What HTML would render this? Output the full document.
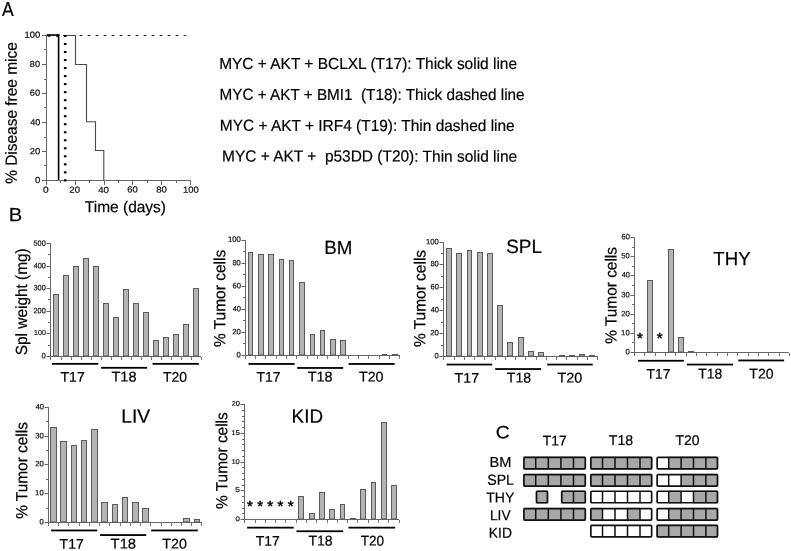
<!DOCTYPE html>
<html><head><meta charset="utf-8"><title>MYC/AKT tumor figure</title>
<style>
html,body{margin:0;padding:0;background:#fff;}
svg{display:block;filter:grayscale(1);}
text{font-family:"Liberation Sans", Arial, Helvetica, sans-serif;fill:#000;stroke:#000;stroke-width:0.2px;}
text.st{stroke-width:0.5px;}
text.tk{fill:#111;stroke:#111;stroke-width:0.2px;}
</style>
</head><body>
<svg width="791" height="551" viewBox="0 0 791 551">
<rect width="791" height="551" fill="#fff"/>
<g id="panelA">
<text x="1.92" y="15.57" font-size="19.30" textLength="11.70" lengthAdjust="spacingAndGlyphs" transform="translate(1.92 15.57) skewY(0.03) translate(-1.92 -15.57)">A</text>
<text x="219.13" y="68.92" font-size="16.01" textLength="297.93" lengthAdjust="spacingAndGlyphs" transform="translate(219.13 68.92) skewY(0.03) translate(-219.13 -68.92)">MYC + AKT + BCLXL (T17): Thick solid line</text>
<text x="219.56" y="99.87" font-size="16.01" textLength="305.04" lengthAdjust="spacingAndGlyphs" transform="translate(219.56 99.87) skewY(0.03) translate(-219.56 -99.87)">MYC + AKT + BMI1&#160; (T18): Thick dashed line</text>
<text x="219.79" y="130.86" font-size="16.01" textLength="294.93" lengthAdjust="spacingAndGlyphs" transform="translate(219.79 130.86) skewY(0.03) translate(-219.79 -130.86)">MYC + AKT + IRF4 (T19): Thin dashed line</text>
<text x="222.06" y="161.54" font-size="16.01" textLength="295.09" lengthAdjust="spacingAndGlyphs" transform="translate(222.06 161.54) skewY(0.03) translate(-222.06 -161.54)">MYC + AKT +&#160; p53DD (T20): Thin solid line</text>
<text x="84.84" y="212.18" font-size="15.88" textLength="81.18" lengthAdjust="spacingAndGlyphs" transform="translate(84.84 212.18) skewY(0.03) translate(-84.84 -212.18)">Time (days)</text>
<text x="16.66" y="183.83" font-size="16.15" textLength="141.62" lengthAdjust="spacingAndGlyphs" transform="rotate(-90 16.66 183.83) translate(16.66 183.83) skewY(0.03) translate(-16.66 -183.83)">% Disease free mice</text>
<rect x="46.00" y="35.00" width="1.00" height="150.00" fill="#666"/>
<rect x="46.00" y="180.00" width="145.00" height="1.00" fill="#666"/>
<rect x="42.00" y="180.00" width="4.00" height="1.00" fill="#666"/>
<text class="tk" x="34.94" y="183.14" font-size="8.90" textLength="5.32" lengthAdjust="spacingAndGlyphs" transform="translate(34.94 183.14) skewY(0.03) translate(-34.94 -183.14)">0</text>
<rect x="44.00" y="165.00" width="2.00" height="1.00" fill="#666"/>
<rect x="42.00" y="151.00" width="4.00" height="1.00" fill="#666"/>
<text class="tk" x="29.83" y="154.18" font-size="8.90" textLength="10.52" lengthAdjust="spacingAndGlyphs" transform="translate(29.83 154.18) skewY(0.03) translate(-29.83 -154.18)">20</text>
<rect x="44.00" y="137.00" width="2.00" height="1.00" fill="#666"/>
<rect x="42.00" y="122.00" width="4.00" height="1.00" fill="#666"/>
<text class="tk" x="30.15" y="125.15" font-size="8.90" textLength="10.15" lengthAdjust="spacingAndGlyphs" transform="translate(30.15 125.15) skewY(0.03) translate(-30.15 -125.15)">40</text>
<rect x="44.00" y="107.00" width="2.00" height="1.00" fill="#666"/>
<rect x="42.00" y="93.00" width="4.00" height="1.00" fill="#666"/>
<text class="tk" x="29.77" y="95.78" font-size="8.90" textLength="10.30" lengthAdjust="spacingAndGlyphs" transform="translate(29.77 95.78) skewY(0.03) translate(-29.77 -95.78)">60</text>
<rect x="44.00" y="79.00" width="2.00" height="1.00" fill="#666"/>
<rect x="42.00" y="64.00" width="4.00" height="1.00" fill="#666"/>
<text class="tk" x="29.87" y="66.94" font-size="8.90" textLength="10.14" lengthAdjust="spacingAndGlyphs" transform="translate(29.87 66.94) skewY(0.03) translate(-29.87 -66.94)">80</text>
<rect x="44.00" y="49.00" width="2.00" height="1.00" fill="#666"/>
<rect x="42.00" y="35.00" width="4.00" height="1.00" fill="#666"/>
<text class="tk" x="24.44" y="37.66" font-size="8.90" textLength="15.73" lengthAdjust="spacingAndGlyphs" transform="translate(24.44 37.66) skewY(0.03) translate(-24.44 -37.66)">100</text>
<rect x="46.00" y="181.00" width="1.00" height="4.00" fill="#666"/>
<text class="tk" x="43.09" y="192.83" font-size="8.90" textLength="5.69" lengthAdjust="spacingAndGlyphs" transform="translate(43.09 192.83) skewY(0.03) translate(-43.09 -192.83)">0</text>
<rect x="60.00" y="181.00" width="1.00" height="2.00" fill="#666"/>
<rect x="75.00" y="181.00" width="1.00" height="4.00" fill="#666"/>
<text class="tk" x="69.39" y="192.78" font-size="8.90" textLength="10.67" lengthAdjust="spacingAndGlyphs" transform="translate(69.39 192.78) skewY(0.03) translate(-69.39 -192.78)">20</text>
<rect x="89.00" y="181.00" width="1.00" height="2.00" fill="#666"/>
<rect x="104.00" y="181.00" width="1.00" height="4.00" fill="#666"/>
<text class="tk" x="98.22" y="193.04" font-size="8.90" textLength="10.70" lengthAdjust="spacingAndGlyphs" transform="translate(98.22 193.04) skewY(0.03) translate(-98.22 -193.04)">40</text>
<rect x="118.00" y="181.00" width="1.00" height="2.00" fill="#666"/>
<rect x="132.00" y="181.00" width="1.00" height="4.00" fill="#666"/>
<text class="tk" x="127.19" y="192.59" font-size="8.90" textLength="10.48" lengthAdjust="spacingAndGlyphs" transform="translate(127.19 192.59) skewY(0.03) translate(-127.19 -192.59)">60</text>
<rect x="147.00" y="181.00" width="1.00" height="2.00" fill="#666"/>
<rect x="161.00" y="181.00" width="1.00" height="4.00" fill="#666"/>
<text class="tk" x="156.28" y="192.56" font-size="8.90" textLength="10.65" lengthAdjust="spacingAndGlyphs" transform="translate(156.28 192.56) skewY(0.03) translate(-156.28 -192.56)">80</text>
<rect x="176.00" y="181.00" width="1.00" height="2.00" fill="#666"/>
<rect x="190.00" y="181.00" width="1.00" height="4.00" fill="#666"/>
<text class="tk" x="183.08" y="192.65" font-size="8.90" textLength="15.75" lengthAdjust="spacingAndGlyphs" transform="translate(183.08 192.65) skewY(0.03) translate(-183.08 -192.65)">100</text>
<rect x="79.50" y="35.00" width="3.00" height="1.00" fill="#333"/>
<rect x="87.50" y="35.00" width="3.00" height="1.00" fill="#333"/>
<rect x="95.50" y="35.00" width="3.00" height="1.00" fill="#333"/>
<rect x="103.50" y="35.00" width="3.00" height="1.00" fill="#333"/>
<rect x="111.50" y="35.00" width="3.00" height="1.00" fill="#333"/>
<rect x="119.50" y="35.00" width="3.00" height="1.00" fill="#333"/>
<rect x="127.50" y="35.00" width="3.00" height="1.00" fill="#333"/>
<rect x="135.50" y="35.00" width="3.00" height="1.00" fill="#333"/>
<rect x="143.50" y="35.00" width="3.00" height="1.00" fill="#333"/>
<rect x="151.50" y="35.00" width="3.00" height="1.00" fill="#333"/>
<rect x="159.50" y="35.00" width="3.00" height="1.00" fill="#333"/>
<rect x="167.50" y="35.00" width="3.00" height="1.00" fill="#333"/>
<rect x="175.50" y="35.00" width="3.00" height="1.00" fill="#333"/>
<rect x="183.50" y="35.00" width="3.00" height="1.00" fill="#333"/>
<polyline fill="none" stroke="#4a4a4a" stroke-width="1.1" points="63.00,35.50 75.50,35.50 75.50,64.50 86.50,64.50 86.50,121.80 95.50,121.80 95.50,150.50 103.80,150.50 103.80,180.00"/>
<rect x="46.60" y="34.20" width="12.80" height="1.60" fill="#000"/>
<rect x="47.50" y="35.20" width="3.00" height="1.50" fill="#000"/>
<rect x="56.00" y="35.20" width="2.60" height="1.50" fill="#000"/>
<rect x="57.80" y="34.20" width="1.60" height="145.80" fill="#000"/>
<rect x="63.90" y="34.95" width="2.60" height="2.10" fill="#000"/>
<rect x="63.90" y="42.97" width="2.60" height="2.10" fill="#000"/>
<rect x="63.90" y="50.99" width="2.60" height="2.10" fill="#000"/>
<rect x="63.90" y="59.01" width="2.60" height="2.10" fill="#000"/>
<rect x="63.90" y="67.03" width="2.60" height="2.10" fill="#000"/>
<rect x="63.90" y="75.05" width="2.60" height="2.10" fill="#000"/>
<rect x="63.90" y="83.07" width="2.60" height="2.10" fill="#000"/>
<rect x="63.90" y="91.09" width="2.60" height="2.10" fill="#000"/>
<rect x="63.90" y="99.11" width="2.60" height="2.10" fill="#000"/>
<rect x="63.90" y="107.13" width="2.60" height="2.10" fill="#000"/>
<rect x="63.90" y="115.15" width="2.60" height="2.10" fill="#000"/>
<rect x="63.90" y="123.17" width="2.60" height="2.10" fill="#000"/>
<rect x="63.90" y="131.19" width="2.60" height="2.10" fill="#000"/>
<rect x="63.90" y="139.21" width="2.60" height="2.10" fill="#000"/>
<rect x="63.90" y="147.23" width="2.60" height="2.10" fill="#000"/>
<rect x="63.90" y="155.25" width="2.60" height="2.10" fill="#000"/>
<rect x="63.90" y="163.27" width="2.60" height="2.10" fill="#000"/>
<rect x="63.90" y="171.29" width="2.60" height="2.10" fill="#000"/>
<rect x="63.90" y="179.31" width="2.60" height="2.10" fill="#000"/>
</g>
<text x="8.71" y="221.25" font-size="19.30" textLength="13.43" lengthAdjust="spacingAndGlyphs" transform="translate(8.71 221.25) skewY(0.03) translate(-8.71 -221.25)">B</text>
<g id="chart-c1">
<rect x="50.00" y="243.00" width="1.00" height="117.00" fill="#666"/>
<rect x="50.00" y="356.00" width="151.00" height="1.00" fill="#666"/>
<rect x="46.50" y="356.00" width="3.50" height="1.00" fill="#666"/>
<text class="tk" x="41.40" y="358.15" font-size="7.65" transform="translate(41.40 358.15) skewY(0.03) translate(-41.40 -358.15)">0</text>
<rect x="48.00" y="345.00" width="2.00" height="1.00" fill="#666"/>
<rect x="46.50" y="333.00" width="3.50" height="1.00" fill="#666"/>
<text class="tk" x="34.03" y="334.61" font-size="7.65" textLength="11.81" lengthAdjust="spacingAndGlyphs" transform="translate(34.03 334.61) skewY(0.03) translate(-34.03 -334.61)">100</text>
<rect x="48.00" y="322.00" width="2.00" height="1.00" fill="#666"/>
<rect x="46.50" y="311.00" width="3.50" height="1.00" fill="#666"/>
<text class="tk" x="33.47" y="313.30" font-size="7.65" textLength="12.27" lengthAdjust="spacingAndGlyphs" transform="translate(33.47 313.30) skewY(0.03) translate(-33.47 -313.30)">200</text>
<rect x="48.00" y="299.00" width="2.00" height="1.00" fill="#666"/>
<rect x="46.50" y="288.00" width="3.50" height="1.00" fill="#666"/>
<text class="tk" x="33.49" y="290.29" font-size="7.65" textLength="12.25" lengthAdjust="spacingAndGlyphs" transform="translate(33.49 290.29) skewY(0.03) translate(-33.49 -290.29)">300</text>
<rect x="48.00" y="277.00" width="2.00" height="1.00" fill="#666"/>
<rect x="46.50" y="266.00" width="3.50" height="1.00" fill="#666"/>
<text class="tk" x="33.72" y="268.34" font-size="7.65" textLength="12.04" lengthAdjust="spacingAndGlyphs" transform="translate(33.72 268.34) skewY(0.03) translate(-33.72 -268.34)">400</text>
<rect x="48.00" y="254.00" width="2.00" height="1.00" fill="#666"/>
<rect x="46.50" y="243.00" width="3.50" height="1.00" fill="#666"/>
<text class="tk" x="33.56" y="245.85" font-size="7.65" textLength="12.17" lengthAdjust="spacingAndGlyphs" transform="translate(33.56 245.85) skewY(0.03) translate(-33.56 -245.85)">500</text>
<rect x="61.00" y="357.00" width="1.00" height="3.00" fill="#777"/>
<rect x="71.00" y="357.00" width="1.00" height="3.00" fill="#777"/>
<rect x="81.00" y="357.00" width="1.00" height="3.00" fill="#777"/>
<rect x="91.00" y="357.00" width="1.00" height="3.00" fill="#777"/>
<rect x="101.00" y="357.00" width="1.00" height="3.00" fill="#777"/>
<rect x="111.00" y="357.00" width="1.00" height="3.00" fill="#777"/>
<rect x="121.00" y="357.00" width="1.00" height="3.00" fill="#777"/>
<rect x="131.00" y="357.00" width="1.00" height="3.00" fill="#777"/>
<rect x="141.00" y="357.00" width="1.00" height="3.00" fill="#777"/>
<rect x="151.00" y="357.00" width="1.00" height="3.00" fill="#777"/>
<rect x="161.00" y="357.00" width="1.00" height="3.00" fill="#777"/>
<rect x="171.00" y="357.00" width="1.00" height="3.00" fill="#777"/>
<rect x="181.00" y="357.00" width="1.00" height="3.00" fill="#777"/>
<rect x="191.00" y="357.00" width="1.00" height="3.00" fill="#777"/>
<rect x="201.00" y="357.00" width="1.00" height="3.00" fill="#777"/>
<rect x="53.5" y="294.5" width="5" height="61.5" fill="#b4b4b4" stroke="#5a5a5a" stroke-width="1"/>
<rect x="63.5" y="275.5" width="5" height="80.5" fill="#b4b4b4" stroke="#5a5a5a" stroke-width="1"/>
<rect x="73.5" y="266.5" width="5" height="89.5" fill="#b4b4b4" stroke="#5a5a5a" stroke-width="1"/>
<rect x="83.5" y="258.5" width="5" height="97.5" fill="#b4b4b4" stroke="#5a5a5a" stroke-width="1"/>
<rect x="93.5" y="266.5" width="5" height="89.5" fill="#b4b4b4" stroke="#5a5a5a" stroke-width="1"/>
<rect x="103.5" y="303.5" width="5" height="52.5" fill="#b4b4b4" stroke="#5a5a5a" stroke-width="1"/>
<rect x="113.5" y="317.5" width="5" height="38.5" fill="#b4b4b4" stroke="#5a5a5a" stroke-width="1"/>
<rect x="123.5" y="289.5" width="5" height="66.5" fill="#b4b4b4" stroke="#5a5a5a" stroke-width="1"/>
<rect x="133.5" y="303.5" width="5" height="52.5" fill="#b4b4b4" stroke="#5a5a5a" stroke-width="1"/>
<rect x="143.5" y="312.5" width="5" height="43.5" fill="#b4b4b4" stroke="#5a5a5a" stroke-width="1"/>
<rect x="153.5" y="340.5" width="5" height="15.5" fill="#b4b4b4" stroke="#5a5a5a" stroke-width="1"/>
<rect x="163.5" y="337.5" width="5" height="18.5" fill="#b4b4b4" stroke="#5a5a5a" stroke-width="1"/>
<rect x="173.5" y="334.5" width="5" height="21.5" fill="#b4b4b4" stroke="#5a5a5a" stroke-width="1"/>
<rect x="183.5" y="324.5" width="5" height="31.5" fill="#b4b4b4" stroke="#5a5a5a" stroke-width="1"/>
<rect x="193.5" y="288.5" width="5" height="67.5" fill="#b4b4b4" stroke="#5a5a5a" stroke-width="1"/>
<rect x="51.90" y="362.95" width="46.40" height="1.80" fill="#000"/>
<rect x="101.10" y="366.90" width="46.00" height="1.80" fill="#000"/>
<rect x="152.50" y="362.95" width="46.30" height="1.80" fill="#000"/>
<text x="26.98" y="355.27" font-size="16.15" textLength="107.03" lengthAdjust="spacingAndGlyphs" transform="rotate(-90 26.98 355.27) translate(26.98 355.27) skewY(0.03) translate(-26.98 -355.27)">Spl weight (mg)</text>
<text x="60.55" y="381.87" font-size="14.05" textLength="24.20" lengthAdjust="spacingAndGlyphs" transform="translate(60.55 381.87) skewY(0.03) translate(-60.55 -381.87)">T17</text>
<text x="111.41" y="381.58" font-size="14.05" textLength="25.14" lengthAdjust="spacingAndGlyphs" transform="translate(111.41 381.58) skewY(0.03) translate(-111.41 -381.58)">T18</text>
<text x="163.01" y="381.68" font-size="14.05" textLength="24.06" lengthAdjust="spacingAndGlyphs" transform="translate(163.01 381.68) skewY(0.03) translate(-163.01 -381.68)">T20</text>
</g>
<g id="chart-bm">
<rect x="245.00" y="240.00" width="1.00" height="119.00" fill="#666"/>
<rect x="245.00" y="355.00" width="155.00" height="1.00" fill="#666"/>
<rect x="241.50" y="355.00" width="3.50" height="1.00" fill="#666"/>
<text class="tk" x="236.40" y="357.15" font-size="7.65" transform="translate(236.40 357.15) skewY(0.03) translate(-236.40 -357.15)">0</text>
<rect x="243.00" y="343.00" width="2.00" height="1.00" fill="#666"/>
<rect x="241.50" y="332.00" width="3.50" height="1.00" fill="#666"/>
<text class="tk" x="232.32" y="334.31" font-size="7.65" textLength="8.62" lengthAdjust="spacingAndGlyphs" transform="translate(232.32 334.31) skewY(0.03) translate(-232.32 -334.31)">20</text>
<rect x="243.00" y="320.00" width="2.00" height="1.00" fill="#666"/>
<rect x="241.50" y="309.00" width="3.50" height="1.00" fill="#666"/>
<text class="tk" x="232.66" y="311.28" font-size="7.65" textLength="8.29" lengthAdjust="spacingAndGlyphs" transform="translate(232.66 311.28) skewY(0.03) translate(-232.66 -311.28)">40</text>
<rect x="243.00" y="297.00" width="2.00" height="1.00" fill="#666"/>
<rect x="241.50" y="286.00" width="3.50" height="1.00" fill="#666"/>
<text class="tk" x="232.57" y="288.30" font-size="7.65" textLength="8.38" lengthAdjust="spacingAndGlyphs" transform="translate(232.57 288.30) skewY(0.03) translate(-232.57 -288.30)">60</text>
<rect x="243.00" y="274.00" width="2.00" height="1.00" fill="#666"/>
<rect x="241.50" y="263.00" width="3.50" height="1.00" fill="#666"/>
<text class="tk" x="232.41" y="265.35" font-size="7.65" textLength="8.30" lengthAdjust="spacingAndGlyphs" transform="translate(232.41 265.35) skewY(0.03) translate(-232.41 -265.35)">80</text>
<rect x="243.00" y="251.00" width="2.00" height="1.00" fill="#666"/>
<rect x="241.50" y="240.00" width="3.50" height="1.00" fill="#666"/>
<text class="tk" x="227.99" y="241.68" font-size="7.65" textLength="12.91" lengthAdjust="spacingAndGlyphs" transform="translate(227.99 241.68) skewY(0.03) translate(-227.99 -241.68)">100</text>
<rect x="255.00" y="356.00" width="1.00" height="3.00" fill="#777"/>
<rect x="265.00" y="356.00" width="1.00" height="3.00" fill="#777"/>
<rect x="276.00" y="356.00" width="1.00" height="3.00" fill="#777"/>
<rect x="286.00" y="356.00" width="1.00" height="3.00" fill="#777"/>
<rect x="296.00" y="356.00" width="1.00" height="3.00" fill="#777"/>
<rect x="307.00" y="356.00" width="1.00" height="3.00" fill="#777"/>
<rect x="317.00" y="356.00" width="1.00" height="3.00" fill="#777"/>
<rect x="327.00" y="356.00" width="1.00" height="3.00" fill="#777"/>
<rect x="338.00" y="356.00" width="1.00" height="3.00" fill="#777"/>
<rect x="348.00" y="356.00" width="1.00" height="3.00" fill="#777"/>
<rect x="358.00" y="356.00" width="1.00" height="3.00" fill="#777"/>
<rect x="368.00" y="356.00" width="1.00" height="3.00" fill="#777"/>
<rect x="379.00" y="356.00" width="1.00" height="3.00" fill="#777"/>
<rect x="389.00" y="356.00" width="1.00" height="3.00" fill="#777"/>
<rect x="399.00" y="356.00" width="1.00" height="3.00" fill="#777"/>
<rect x="248.5" y="252.5" width="4" height="102.5" fill="#b4b4b4" stroke="#5a5a5a" stroke-width="1"/>
<rect x="258.5" y="254.5" width="5" height="100.5" fill="#b4b4b4" stroke="#5a5a5a" stroke-width="1"/>
<rect x="268.5" y="254.5" width="5" height="100.5" fill="#b4b4b4" stroke="#5a5a5a" stroke-width="1"/>
<rect x="279.5" y="259.5" width="4" height="95.5" fill="#b4b4b4" stroke="#5a5a5a" stroke-width="1"/>
<rect x="289.5" y="260.5" width="4" height="94.5" fill="#b4b4b4" stroke="#5a5a5a" stroke-width="1"/>
<rect x="299.5" y="282.5" width="5" height="72.5" fill="#b4b4b4" stroke="#5a5a5a" stroke-width="1"/>
<rect x="310.5" y="334.5" width="4" height="20.5" fill="#b4b4b4" stroke="#5a5a5a" stroke-width="1"/>
<rect x="320.5" y="330.5" width="4" height="24.5" fill="#b4b4b4" stroke="#5a5a5a" stroke-width="1"/>
<rect x="330.5" y="339.5" width="5" height="15.5" fill="#b4b4b4" stroke="#5a5a5a" stroke-width="1"/>
<rect x="340.5" y="340.5" width="5" height="14.5" fill="#b4b4b4" stroke="#5a5a5a" stroke-width="1"/>
<rect x="382.5" y="354.5" width="4" height="0.5" fill="#b4b4b4" stroke="#5a5a5a" stroke-width="1"/>
<rect x="392.5" y="354.5" width="5" height="0.5" fill="#b4b4b4" stroke="#5a5a5a" stroke-width="1"/>
<rect x="248.50" y="363.05" width="46.10" height="1.80" fill="#000"/>
<rect x="297.20" y="367.05" width="46.00" height="1.80" fill="#000"/>
<rect x="348.60" y="363.05" width="46.10" height="1.80" fill="#000"/>
<text x="225.14" y="347.11" font-size="16.15" textLength="97.29" lengthAdjust="spacingAndGlyphs" transform="rotate(-90 225.14 347.11) translate(225.14 347.11) skewY(0.03) translate(-225.14 -347.11)">% Tumor cells</text>
<text x="324.20" y="254.13" font-size="19.21" textLength="28.09" lengthAdjust="spacingAndGlyphs" transform="translate(324.20 254.13) skewY(0.03) translate(-324.20 -254.13)">BM</text>
<text x="256.56" y="381.78" font-size="14.05" textLength="24.10" lengthAdjust="spacingAndGlyphs" transform="translate(256.56 381.78) skewY(0.03) translate(-256.56 -381.78)">T17</text>
<text x="307.74" y="381.47" font-size="14.05" textLength="24.84" lengthAdjust="spacingAndGlyphs" transform="translate(307.74 381.47) skewY(0.03) translate(-307.74 -381.47)">T18</text>
<text x="358.94" y="381.48" font-size="14.05" textLength="24.54" lengthAdjust="spacingAndGlyphs" transform="translate(358.94 381.48) skewY(0.03) translate(-358.94 -381.48)">T20</text>
</g>
<g id="chart-spl">
<rect x="443.00" y="242.00" width="1.00" height="118.00" fill="#666"/>
<rect x="443.00" y="356.00" width="155.00" height="1.00" fill="#666"/>
<rect x="439.50" y="356.00" width="3.50" height="1.00" fill="#666"/>
<text class="tk" x="434.40" y="358.15" font-size="7.65" transform="translate(434.40 358.15) skewY(0.03) translate(-434.40 -358.15)">0</text>
<rect x="441.00" y="345.00" width="2.00" height="1.00" fill="#666"/>
<rect x="439.50" y="333.00" width="3.50" height="1.00" fill="#666"/>
<text class="tk" x="430.32" y="335.31" font-size="7.65" textLength="8.62" lengthAdjust="spacingAndGlyphs" transform="translate(430.32 335.31) skewY(0.03) translate(-430.32 -335.31)">20</text>
<rect x="441.00" y="322.00" width="2.00" height="1.00" fill="#666"/>
<rect x="439.50" y="310.00" width="3.50" height="1.00" fill="#666"/>
<text class="tk" x="430.66" y="312.28" font-size="7.65" textLength="8.29" lengthAdjust="spacingAndGlyphs" transform="translate(430.66 312.28) skewY(0.03) translate(-430.66 -312.28)">40</text>
<rect x="441.00" y="299.00" width="2.00" height="1.00" fill="#666"/>
<rect x="439.50" y="287.00" width="3.50" height="1.00" fill="#666"/>
<text class="tk" x="430.57" y="289.30" font-size="7.65" textLength="8.38" lengthAdjust="spacingAndGlyphs" transform="translate(430.57 289.30) skewY(0.03) translate(-430.57 -289.30)">60</text>
<rect x="441.00" y="276.00" width="2.00" height="1.00" fill="#666"/>
<rect x="439.50" y="264.00" width="3.50" height="1.00" fill="#666"/>
<text class="tk" x="430.41" y="266.35" font-size="7.65" textLength="8.30" lengthAdjust="spacingAndGlyphs" transform="translate(430.41 266.35) skewY(0.03) translate(-430.41 -266.35)">80</text>
<rect x="441.00" y="253.00" width="2.00" height="1.00" fill="#666"/>
<rect x="439.50" y="242.00" width="3.50" height="1.00" fill="#666"/>
<text class="tk" x="426.05" y="244.35" font-size="7.65" textLength="12.75" lengthAdjust="spacingAndGlyphs" transform="translate(426.05 244.35) skewY(0.03) translate(-426.05 -244.35)">100</text>
<rect x="454.00" y="357.00" width="1.00" height="3.00" fill="#777"/>
<rect x="464.00" y="357.00" width="1.00" height="3.00" fill="#777"/>
<rect x="474.00" y="357.00" width="1.00" height="3.00" fill="#777"/>
<rect x="484.00" y="357.00" width="1.00" height="3.00" fill="#777"/>
<rect x="495.00" y="357.00" width="1.00" height="3.00" fill="#777"/>
<rect x="505.00" y="357.00" width="1.00" height="3.00" fill="#777"/>
<rect x="515.00" y="357.00" width="1.00" height="3.00" fill="#777"/>
<rect x="525.00" y="357.00" width="1.00" height="3.00" fill="#777"/>
<rect x="536.00" y="357.00" width="1.00" height="3.00" fill="#777"/>
<rect x="546.00" y="357.00" width="1.00" height="3.00" fill="#777"/>
<rect x="556.00" y="357.00" width="1.00" height="3.00" fill="#777"/>
<rect x="566.00" y="357.00" width="1.00" height="3.00" fill="#777"/>
<rect x="577.00" y="357.00" width="1.00" height="3.00" fill="#777"/>
<rect x="587.00" y="357.00" width="1.00" height="3.00" fill="#777"/>
<rect x="597.00" y="357.00" width="1.00" height="3.00" fill="#777"/>
<rect x="446.5" y="248.5" width="5" height="107.5" fill="#b4b4b4" stroke="#5a5a5a" stroke-width="1"/>
<rect x="456.5" y="253.5" width="5" height="102.5" fill="#b4b4b4" stroke="#5a5a5a" stroke-width="1"/>
<rect x="467.5" y="250.5" width="4" height="105.5" fill="#b4b4b4" stroke="#5a5a5a" stroke-width="1"/>
<rect x="477.5" y="252.5" width="5" height="103.5" fill="#b4b4b4" stroke="#5a5a5a" stroke-width="1"/>
<rect x="487.5" y="253.5" width="5" height="102.5" fill="#b4b4b4" stroke="#5a5a5a" stroke-width="1"/>
<rect x="497.5" y="305.5" width="5" height="50.5" fill="#b4b4b4" stroke="#5a5a5a" stroke-width="1"/>
<rect x="507.5" y="342.5" width="5" height="13.5" fill="#b4b4b4" stroke="#5a5a5a" stroke-width="1"/>
<rect x="518.5" y="337.5" width="5" height="18.5" fill="#b4b4b4" stroke="#5a5a5a" stroke-width="1"/>
<rect x="528.5" y="351.5" width="5" height="4.5" fill="#b4b4b4" stroke="#5a5a5a" stroke-width="1"/>
<rect x="538.5" y="352.5" width="5" height="3.5" fill="#b4b4b4" stroke="#5a5a5a" stroke-width="1"/>
<rect x="559.5" y="355.5" width="5" height="0.5" fill="#b4b4b4" stroke="#5a5a5a" stroke-width="1"/>
<rect x="569.5" y="355.5" width="5" height="0.5" fill="#b4b4b4" stroke="#5a5a5a" stroke-width="1"/>
<rect x="579.5" y="354.5" width="5" height="1.5" fill="#b4b4b4" stroke="#5a5a5a" stroke-width="1"/>
<rect x="589.5" y="355.5" width="5" height="0.5" fill="#b4b4b4" stroke="#5a5a5a" stroke-width="1"/>
<rect x="446.70" y="363.65" width="45.50" height="1.80" fill="#000"/>
<rect x="495.20" y="368.15" width="45.90" height="1.80" fill="#000"/>
<rect x="547.20" y="363.65" width="45.50" height="1.80" fill="#000"/>
<text x="425.37" y="347.06" font-size="16.15" textLength="97.15" lengthAdjust="spacingAndGlyphs" transform="rotate(-90 425.37 347.06) translate(425.37 347.06) skewY(0.03) translate(-425.37 -347.06)">% Tumor cells</text>
<text x="506.18" y="252.96" font-size="19.21" textLength="35.72" lengthAdjust="spacingAndGlyphs" transform="translate(506.18 252.96) skewY(0.03) translate(-506.18 -252.96)">SPL</text>
<text x="454.59" y="382.72" font-size="14.05" textLength="24.49" lengthAdjust="spacingAndGlyphs" transform="translate(454.59 382.72) skewY(0.03) translate(-454.59 -382.72)">T17</text>
<text x="506.80" y="382.60" font-size="14.05" textLength="24.29" lengthAdjust="spacingAndGlyphs" transform="translate(506.80 382.60) skewY(0.03) translate(-506.80 -382.60)">T18</text>
<text x="557.46" y="382.55" font-size="14.05" textLength="24.88" lengthAdjust="spacingAndGlyphs" transform="translate(557.46 382.55) skewY(0.03) translate(-557.46 -382.55)">T20</text>
</g>
<g id="chart-thy">
<rect x="634.00" y="237.00" width="1.00" height="119.00" fill="#666"/>
<rect x="634.00" y="352.00" width="155.00" height="1.00" fill="#666"/>
<rect x="630.50" y="352.00" width="3.50" height="1.00" fill="#666"/>
<text class="tk" x="625.40" y="354.15" font-size="7.65" transform="translate(625.40 354.15) skewY(0.03) translate(-625.40 -354.15)">0</text>
<rect x="632.00" y="342.00" width="2.00" height="1.00" fill="#666"/>
<rect x="630.50" y="333.00" width="3.50" height="1.00" fill="#666"/>
<text class="tk" x="621.12" y="335.32" font-size="7.65" textLength="8.55" lengthAdjust="spacingAndGlyphs" transform="translate(621.12 335.32) skewY(0.03) translate(-621.12 -335.32)">10</text>
<rect x="632.00" y="323.00" width="2.00" height="1.00" fill="#666"/>
<rect x="630.50" y="314.00" width="3.50" height="1.00" fill="#666"/>
<text class="tk" x="621.32" y="316.31" font-size="7.65" textLength="8.62" lengthAdjust="spacingAndGlyphs" transform="translate(621.32 316.31) skewY(0.03) translate(-621.32 -316.31)">20</text>
<rect x="632.00" y="304.00" width="2.00" height="1.00" fill="#666"/>
<rect x="630.50" y="295.00" width="3.50" height="1.00" fill="#666"/>
<text class="tk" x="621.25" y="297.35" font-size="7.65" textLength="8.50" lengthAdjust="spacingAndGlyphs" transform="translate(621.25 297.35) skewY(0.03) translate(-621.25 -297.35)">30</text>
<rect x="632.00" y="285.00" width="2.00" height="1.00" fill="#666"/>
<rect x="630.50" y="275.00" width="3.50" height="1.00" fill="#666"/>
<text class="tk" x="621.66" y="277.28" font-size="7.65" textLength="8.29" lengthAdjust="spacingAndGlyphs" transform="translate(621.66 277.28) skewY(0.03) translate(-621.66 -277.28)">40</text>
<rect x="632.00" y="266.00" width="2.00" height="1.00" fill="#666"/>
<rect x="630.50" y="256.00" width="3.50" height="1.00" fill="#666"/>
<text class="tk" x="621.28" y="258.33" font-size="7.65" textLength="8.37" lengthAdjust="spacingAndGlyphs" transform="translate(621.28 258.33) skewY(0.03) translate(-621.28 -258.33)">50</text>
<rect x="632.00" y="247.00" width="2.00" height="1.00" fill="#666"/>
<rect x="630.50" y="237.00" width="3.50" height="1.00" fill="#666"/>
<text class="tk" x="621.57" y="239.30" font-size="7.65" textLength="8.38" lengthAdjust="spacingAndGlyphs" transform="translate(621.57 239.30) skewY(0.03) translate(-621.57 -239.30)">60</text>
<rect x="644.00" y="353.00" width="1.00" height="3.00" fill="#777"/>
<rect x="655.00" y="353.00" width="1.00" height="3.00" fill="#777"/>
<rect x="665.00" y="353.00" width="1.00" height="3.00" fill="#777"/>
<rect x="675.00" y="353.00" width="1.00" height="3.00" fill="#777"/>
<rect x="686.00" y="353.00" width="1.00" height="3.00" fill="#777"/>
<rect x="696.00" y="353.00" width="1.00" height="3.00" fill="#777"/>
<rect x="706.00" y="353.00" width="1.00" height="3.00" fill="#777"/>
<rect x="717.00" y="353.00" width="1.00" height="3.00" fill="#777"/>
<rect x="727.00" y="353.00" width="1.00" height="3.00" fill="#777"/>
<rect x="737.00" y="353.00" width="1.00" height="3.00" fill="#777"/>
<rect x="748.00" y="353.00" width="1.00" height="3.00" fill="#777"/>
<rect x="758.00" y="353.00" width="1.00" height="3.00" fill="#777"/>
<rect x="768.00" y="353.00" width="1.00" height="3.00" fill="#777"/>
<rect x="779.00" y="353.00" width="1.00" height="3.00" fill="#777"/>
<rect x="789.00" y="353.00" width="1.00" height="3.00" fill="#777"/>
<rect x="647.5" y="280.5" width="5" height="71.5" fill="#b4b4b4" stroke="#5a5a5a" stroke-width="1"/>
<rect x="668.5" y="249.5" width="5" height="102.5" fill="#b4b4b4" stroke="#5a5a5a" stroke-width="1"/>
<rect x="678.5" y="337.5" width="5" height="14.5" fill="#b4b4b4" stroke="#5a5a5a" stroke-width="1"/>
<rect x="688.5" y="351.5" width="5" height="0.5" fill="#b4b4b4" stroke="#5a5a5a" stroke-width="1"/>
<rect x="638.00" y="359.85" width="45.90" height="1.80" fill="#000"/>
<rect x="686.90" y="363.65" width="46.10" height="1.80" fill="#000"/>
<rect x="738.30" y="359.55" width="45.80" height="1.80" fill="#000"/>
<text x="639.95" y="342.80" font-size="15" text-anchor="middle" class="st">*</text>
<text x="659.60" y="342.80" font-size="15" text-anchor="middle" class="st">*</text>
<text x="616.50" y="343.73" font-size="16.15" textLength="96.66" lengthAdjust="spacingAndGlyphs" transform="rotate(-90 616.50 343.73) translate(616.50 343.73) skewY(0.03) translate(-616.50 -343.73)">% Tumor cells</text>
<text x="713.33" y="265.24" font-size="19.21" textLength="37.29" lengthAdjust="spacingAndGlyphs" transform="translate(713.33 265.24) skewY(0.03) translate(-713.33 -265.24)">THY</text>
<text x="646.62" y="378.81" font-size="14.05" textLength="23.75" lengthAdjust="spacingAndGlyphs" transform="translate(646.62 378.81) skewY(0.03) translate(-646.62 -378.81)">T17</text>
<text x="698.24" y="378.50" font-size="14.05" textLength="23.91" lengthAdjust="spacingAndGlyphs" transform="translate(698.24 378.50) skewY(0.03) translate(-698.24 -378.50)">T18</text>
<text x="749.39" y="378.51" font-size="14.05" textLength="24.20" lengthAdjust="spacingAndGlyphs" transform="translate(749.39 378.51) skewY(0.03) translate(-749.39 -378.51)">T20</text>
</g>
<g id="chart-liv">
<rect x="48.00" y="407.00" width="1.00" height="119.00" fill="#666"/>
<rect x="48.00" y="522.00" width="154.00" height="1.00" fill="#666"/>
<rect x="44.50" y="522.00" width="3.50" height="1.00" fill="#666"/>
<text class="tk" x="39.40" y="524.15" font-size="7.65" transform="translate(39.40 524.15) skewY(0.03) translate(-39.40 -524.15)">0</text>
<rect x="46.00" y="508.00" width="2.00" height="1.00" fill="#666"/>
<rect x="44.50" y="493.00" width="3.50" height="1.00" fill="#666"/>
<text class="tk" x="35.12" y="495.32" font-size="7.65" textLength="8.55" lengthAdjust="spacingAndGlyphs" transform="translate(35.12 495.32) skewY(0.03) translate(-35.12 -495.32)">10</text>
<rect x="46.00" y="479.00" width="2.00" height="1.00" fill="#666"/>
<rect x="44.50" y="464.00" width="3.50" height="1.00" fill="#666"/>
<text class="tk" x="35.32" y="466.31" font-size="7.65" textLength="8.62" lengthAdjust="spacingAndGlyphs" transform="translate(35.32 466.31) skewY(0.03) translate(-35.32 -466.31)">20</text>
<rect x="46.00" y="450.00" width="2.00" height="1.00" fill="#666"/>
<rect x="44.50" y="436.00" width="3.50" height="1.00" fill="#666"/>
<text class="tk" x="35.25" y="438.35" font-size="7.65" textLength="8.50" lengthAdjust="spacingAndGlyphs" transform="translate(35.25 438.35) skewY(0.03) translate(-35.25 -438.35)">30</text>
<rect x="46.00" y="421.00" width="2.00" height="1.00" fill="#666"/>
<rect x="44.50" y="407.00" width="3.50" height="1.00" fill="#666"/>
<text class="tk" x="35.66" y="409.28" font-size="7.65" textLength="8.29" lengthAdjust="spacingAndGlyphs" transform="translate(35.66 409.28) skewY(0.03) translate(-35.66 -409.28)">40</text>
<rect x="58.00" y="523.00" width="1.00" height="3.00" fill="#777"/>
<rect x="68.00" y="523.00" width="1.00" height="3.00" fill="#777"/>
<rect x="79.00" y="523.00" width="1.00" height="3.00" fill="#777"/>
<rect x="89.00" y="523.00" width="1.00" height="3.00" fill="#777"/>
<rect x="99.00" y="523.00" width="1.00" height="3.00" fill="#777"/>
<rect x="109.00" y="523.00" width="1.00" height="3.00" fill="#777"/>
<rect x="120.00" y="523.00" width="1.00" height="3.00" fill="#777"/>
<rect x="130.00" y="523.00" width="1.00" height="3.00" fill="#777"/>
<rect x="140.00" y="523.00" width="1.00" height="3.00" fill="#777"/>
<rect x="150.00" y="523.00" width="1.00" height="3.00" fill="#777"/>
<rect x="161.00" y="523.00" width="1.00" height="3.00" fill="#777"/>
<rect x="171.00" y="523.00" width="1.00" height="3.00" fill="#777"/>
<rect x="181.00" y="523.00" width="1.00" height="3.00" fill="#777"/>
<rect x="191.00" y="523.00" width="1.00" height="3.00" fill="#777"/>
<rect x="201.00" y="523.00" width="1.00" height="3.00" fill="#777"/>
<rect x="50.5" y="427.5" width="6" height="94.5" fill="#b4b4b4" stroke="#5a5a5a" stroke-width="1"/>
<rect x="60.5" y="441.5" width="6" height="80.5" fill="#b4b4b4" stroke="#5a5a5a" stroke-width="1"/>
<rect x="71.5" y="445.5" width="5" height="76.5" fill="#b4b4b4" stroke="#5a5a5a" stroke-width="1"/>
<rect x="81.5" y="440.5" width="5" height="81.5" fill="#b4b4b4" stroke="#5a5a5a" stroke-width="1"/>
<rect x="91.5" y="429.5" width="6" height="92.5" fill="#b4b4b4" stroke="#5a5a5a" stroke-width="1"/>
<rect x="101.5" y="502.5" width="6" height="19.5" fill="#b4b4b4" stroke="#5a5a5a" stroke-width="1"/>
<rect x="112.5" y="504.5" width="5" height="17.5" fill="#b4b4b4" stroke="#5a5a5a" stroke-width="1"/>
<rect x="122.5" y="497.5" width="5" height="24.5" fill="#b4b4b4" stroke="#5a5a5a" stroke-width="1"/>
<rect x="132.5" y="502.5" width="6" height="19.5" fill="#b4b4b4" stroke="#5a5a5a" stroke-width="1"/>
<rect x="142.5" y="508.5" width="6" height="13.5" fill="#b4b4b4" stroke="#5a5a5a" stroke-width="1"/>
<rect x="183.5" y="518.5" width="6" height="3.5" fill="#b4b4b4" stroke="#5a5a5a" stroke-width="1"/>
<rect x="194.5" y="519.5" width="5" height="2.5" fill="#b4b4b4" stroke="#5a5a5a" stroke-width="1"/>
<rect x="51.10" y="529.55" width="46.10" height="1.80" fill="#000"/>
<rect x="100.10" y="534.15" width="46.10" height="1.80" fill="#000"/>
<rect x="151.20" y="529.55" width="46.60" height="1.80" fill="#000"/>
<text x="27.28" y="518.83" font-size="16.15" textLength="96.74" lengthAdjust="spacingAndGlyphs" transform="rotate(-90 27.28 518.83) translate(27.28 518.83) skewY(0.03) translate(-27.28 -518.83)">% Tumor cells</text>
<text x="121.31" y="422.75" font-size="19.21" textLength="28.94" lengthAdjust="spacingAndGlyphs" transform="translate(121.31 422.75) skewY(0.03) translate(-121.31 -422.75)">LIV</text>
<text x="59.61" y="548.83" font-size="14.05" textLength="24.16" lengthAdjust="spacingAndGlyphs" transform="translate(59.61 548.83) skewY(0.03) translate(-59.61 -548.83)">T17</text>
<text x="110.61" y="548.46" font-size="14.05" textLength="25.47" lengthAdjust="spacingAndGlyphs" transform="translate(110.61 548.46) skewY(0.03) translate(-110.61 -548.46)">T18</text>
<text x="162.29" y="548.47" font-size="14.05" textLength="24.58" lengthAdjust="spacingAndGlyphs" transform="translate(162.29 548.47) skewY(0.03) translate(-162.29 -548.47)">T20</text>
</g>
<g id="chart-kid">
<rect x="244.00" y="404.00" width="1.00" height="119.00" fill="#666"/>
<rect x="244.00" y="519.00" width="155.00" height="1.00" fill="#666"/>
<rect x="240.50" y="519.00" width="3.50" height="1.00" fill="#666"/>
<text class="tk" x="235.43" y="521.19" font-size="7.00" textLength="4.37" lengthAdjust="spacingAndGlyphs" transform="translate(235.43 521.19) skewY(0.03) translate(-235.43 -521.19)">0</text>
<rect x="242.00" y="513.00" width="2.00" height="1.00" fill="#666"/>
<rect x="242.00" y="508.00" width="2.00" height="1.00" fill="#666"/>
<rect x="242.00" y="502.00" width="2.00" height="1.00" fill="#666"/>
<rect x="242.00" y="496.00" width="2.00" height="1.00" fill="#666"/>
<rect x="240.50" y="490.00" width="3.50" height="1.00" fill="#666"/>
<text class="tk" x="235.33" y="492.09" font-size="7.00" textLength="4.58" lengthAdjust="spacingAndGlyphs" transform="translate(235.33 492.09) skewY(0.03) translate(-235.33 -492.09)">5</text>
<rect x="242.00" y="485.00" width="2.00" height="1.00" fill="#666"/>
<rect x="242.00" y="479.00" width="2.00" height="1.00" fill="#666"/>
<rect x="242.00" y="473.00" width="2.00" height="1.00" fill="#666"/>
<rect x="242.00" y="467.00" width="2.00" height="1.00" fill="#666"/>
<rect x="240.50" y="462.00" width="3.50" height="1.00" fill="#666"/>
<text class="tk" x="231.40" y="464.07" font-size="7.00" textLength="8.41" lengthAdjust="spacingAndGlyphs" transform="translate(231.40 464.07) skewY(0.03) translate(-231.40 -464.07)">10</text>
<rect x="242.00" y="456.00" width="2.00" height="1.00" fill="#666"/>
<rect x="242.00" y="450.00" width="2.00" height="1.00" fill="#666"/>
<rect x="242.00" y="444.00" width="2.00" height="1.00" fill="#666"/>
<rect x="242.00" y="439.00" width="2.00" height="1.00" fill="#666"/>
<rect x="240.50" y="433.00" width="3.50" height="1.00" fill="#666"/>
<text class="tk" x="231.62" y="435.05" font-size="7.00" textLength="8.21" lengthAdjust="spacingAndGlyphs" transform="translate(231.62 435.05) skewY(0.03) translate(-231.62 -435.05)">15</text>
<rect x="242.00" y="427.00" width="2.00" height="1.00" fill="#666"/>
<rect x="242.00" y="421.00" width="2.00" height="1.00" fill="#666"/>
<rect x="242.00" y="416.00" width="2.00" height="1.00" fill="#666"/>
<rect x="242.00" y="410.00" width="2.00" height="1.00" fill="#666"/>
<rect x="240.50" y="404.00" width="3.50" height="1.00" fill="#666"/>
<text class="tk" x="231.70" y="405.67" font-size="7.00" textLength="8.28" lengthAdjust="spacingAndGlyphs" transform="translate(231.70 405.67) skewY(0.03) translate(-231.70 -405.67)">20</text>
<rect x="255.00" y="520.00" width="1.00" height="3.00" fill="#777"/>
<rect x="265.00" y="520.00" width="1.00" height="3.00" fill="#777"/>
<rect x="275.00" y="520.00" width="1.00" height="3.00" fill="#777"/>
<rect x="285.00" y="520.00" width="1.00" height="3.00" fill="#777"/>
<rect x="296.00" y="520.00" width="1.00" height="3.00" fill="#777"/>
<rect x="306.00" y="520.00" width="1.00" height="3.00" fill="#777"/>
<rect x="316.00" y="520.00" width="1.00" height="3.00" fill="#777"/>
<rect x="327.00" y="520.00" width="1.00" height="3.00" fill="#777"/>
<rect x="337.00" y="520.00" width="1.00" height="3.00" fill="#777"/>
<rect x="347.00" y="520.00" width="1.00" height="3.00" fill="#777"/>
<rect x="357.00" y="520.00" width="1.00" height="3.00" fill="#777"/>
<rect x="368.00" y="520.00" width="1.00" height="3.00" fill="#777"/>
<rect x="378.00" y="520.00" width="1.00" height="3.00" fill="#777"/>
<rect x="388.00" y="520.00" width="1.00" height="3.00" fill="#777"/>
<rect x="399.00" y="520.00" width="1.00" height="3.00" fill="#777"/>
<rect x="298.5" y="496.5" width="5" height="22.5" fill="#b4b4b4" stroke="#5a5a5a" stroke-width="1"/>
<rect x="309.5" y="513.5" width="5" height="5.5" fill="#b4b4b4" stroke="#5a5a5a" stroke-width="1"/>
<rect x="319.5" y="492.5" width="5" height="26.5" fill="#b4b4b4" stroke="#5a5a5a" stroke-width="1"/>
<rect x="329.5" y="509.5" width="5" height="9.5" fill="#b4b4b4" stroke="#5a5a5a" stroke-width="1"/>
<rect x="340.5" y="504.5" width="4" height="14.5" fill="#b4b4b4" stroke="#5a5a5a" stroke-width="1"/>
<rect x="350.5" y="518.5" width="5" height="0.5" fill="#b4b4b4" stroke="#5a5a5a" stroke-width="1"/>
<rect x="360.5" y="489.5" width="5" height="29.5" fill="#b4b4b4" stroke="#5a5a5a" stroke-width="1"/>
<rect x="371.5" y="482.5" width="4" height="36.5" fill="#b4b4b4" stroke="#5a5a5a" stroke-width="1"/>
<rect x="381.5" y="422.5" width="5" height="96.5" fill="#b4b4b4" stroke="#5a5a5a" stroke-width="1"/>
<rect x="391.5" y="485.5" width="5" height="33.5" fill="#b4b4b4" stroke="#5a5a5a" stroke-width="1"/>
<rect x="247.10" y="526.75" width="46.60" height="1.80" fill="#000"/>
<rect x="296.50" y="530.35" width="46.70" height="1.80" fill="#000"/>
<rect x="348.50" y="526.75" width="46.70" height="1.80" fill="#000"/>
<text x="249.95" y="510.50" font-size="15" text-anchor="middle" class="st">*</text>
<text x="260.10" y="510.50" font-size="15" text-anchor="middle" class="st">*</text>
<text x="270.25" y="510.50" font-size="15" text-anchor="middle" class="st">*</text>
<text x="280.40" y="510.50" font-size="15" text-anchor="middle" class="st">*</text>
<text x="290.55" y="510.50" font-size="15" text-anchor="middle" class="st">*</text>
<text x="227.22" y="508.95" font-size="16.15" textLength="96.68" lengthAdjust="spacingAndGlyphs" transform="rotate(-90 227.22 508.95) translate(227.22 508.95) skewY(0.03) translate(-227.22 -508.95)">% Tumor cells</text>
<text x="291.59" y="422.85" font-size="19.21" textLength="31.48" lengthAdjust="spacingAndGlyphs" transform="translate(291.59 422.85) skewY(0.03) translate(-291.59 -422.85)">KID</text>
<text x="255.85" y="545.81" font-size="14.05" textLength="23.99" lengthAdjust="spacingAndGlyphs" transform="translate(255.85 545.81) skewY(0.03) translate(-255.85 -545.81)">T17</text>
<text x="308.44" y="545.44" font-size="14.05" textLength="24.20" lengthAdjust="spacingAndGlyphs" transform="translate(308.44 545.44) skewY(0.03) translate(-308.44 -545.44)">T18</text>
<text x="360.67" y="545.51" font-size="14.05" textLength="23.49" lengthAdjust="spacingAndGlyphs" transform="translate(360.67 545.51) skewY(0.03) translate(-360.67 -545.51)">T20</text>
</g>
<g id="panelC">
<text x="495.73" y="438.35" font-size="17.81" textLength="13.91" lengthAdjust="spacingAndGlyphs" transform="translate(495.73 438.35) skewY(0.03) translate(-495.73 -438.35)">C</text>
<text x="542.72" y="445.61" font-size="14.05" textLength="23.89" lengthAdjust="spacingAndGlyphs" transform="translate(542.72 445.61) skewY(0.03) translate(-542.72 -445.61)">T17</text>
<text x="608.83" y="445.09" font-size="14.05" textLength="24.38" lengthAdjust="spacingAndGlyphs" transform="translate(608.83 445.09) skewY(0.03) translate(-608.83 -445.09)">T18</text>
<text x="675.48" y="444.99" font-size="14.05" textLength="24.06" lengthAdjust="spacingAndGlyphs" transform="translate(675.48 444.99) skewY(0.03) translate(-675.48 -444.99)">T20</text>
<text x="489.51" y="466.93" font-size="14.53" textLength="21.85" lengthAdjust="spacingAndGlyphs" transform="translate(489.51 466.93) skewY(0.03) translate(-489.51 -466.93)">BM</text>
<text x="487.30" y="484.65" font-size="14.53" textLength="26.66" lengthAdjust="spacingAndGlyphs" transform="translate(487.30 484.65) skewY(0.03) translate(-487.30 -484.65)">SPL</text>
<text x="486.18" y="502.52" font-size="14.53" textLength="28.18" lengthAdjust="spacingAndGlyphs" transform="translate(486.18 502.52) skewY(0.03) translate(-486.18 -502.52)">THY</text>
<text x="489.96" y="520.35" font-size="14.53" textLength="20.64" lengthAdjust="spacingAndGlyphs" transform="translate(489.96 520.35) skewY(0.03) translate(-489.96 -520.35)">LIV</text>
<text x="488.77" y="537.82" font-size="14.53" textLength="23.14" lengthAdjust="spacingAndGlyphs" transform="translate(488.77 537.82) skewY(0.03) translate(-488.77 -537.82)">KID</text>
<rect x="523.10" y="456.50" width="12.60" height="13.20" fill="#a8a8a8"/>
<rect x="535.70" y="456.50" width="12.60" height="13.20" fill="#a8a8a8"/>
<rect x="548.30" y="456.50" width="12.60" height="13.20" fill="#a8a8a8"/>
<rect x="560.90" y="456.50" width="12.60" height="13.20" fill="#a8a8a8"/>
<rect x="573.50" y="456.50" width="12.60" height="13.20" fill="#a8a8a8"/>
<line x1="535.70" y1="457.50" x2="535.70" y2="468.70" stroke="#111" stroke-width="1.5"/>
<line x1="548.30" y1="457.50" x2="548.30" y2="468.70" stroke="#111" stroke-width="1.5"/>
<line x1="560.90" y1="457.50" x2="560.90" y2="468.70" stroke="#111" stroke-width="1.5"/>
<line x1="573.50" y1="457.50" x2="573.50" y2="468.70" stroke="#111" stroke-width="1.5"/>
<rect x="523.95" y="457.35" width="61.30" height="11.50" rx="1" fill="none" stroke="#111" stroke-width="1.7"/>
<rect x="590.00" y="456.50" width="12.50" height="13.20" fill="#a8a8a8"/>
<rect x="602.50" y="456.50" width="12.50" height="13.20" fill="#a8a8a8"/>
<rect x="615.00" y="456.50" width="12.50" height="13.20" fill="#a8a8a8"/>
<rect x="627.50" y="456.50" width="12.50" height="13.20" fill="#a8a8a8"/>
<rect x="640.00" y="456.50" width="12.50" height="13.20" fill="#a8a8a8"/>
<line x1="602.50" y1="457.50" x2="602.50" y2="468.70" stroke="#111" stroke-width="1.5"/>
<line x1="615.00" y1="457.50" x2="615.00" y2="468.70" stroke="#111" stroke-width="1.5"/>
<line x1="627.50" y1="457.50" x2="627.50" y2="468.70" stroke="#111" stroke-width="1.5"/>
<line x1="640.00" y1="457.50" x2="640.00" y2="468.70" stroke="#111" stroke-width="1.5"/>
<rect x="590.85" y="457.35" width="60.80" height="11.50" rx="1" fill="none" stroke="#111" stroke-width="1.7"/>
<rect x="656.30" y="456.50" width="12.40" height="13.20" fill="#fff"/>
<rect x="668.70" y="456.50" width="12.40" height="13.20" fill="#a8a8a8"/>
<rect x="681.10" y="456.50" width="12.40" height="13.20" fill="#a8a8a8"/>
<rect x="693.50" y="456.50" width="12.40" height="13.20" fill="#a8a8a8"/>
<rect x="705.90" y="456.50" width="12.40" height="13.20" fill="#a8a8a8"/>
<line x1="668.70" y1="457.50" x2="668.70" y2="468.70" stroke="#111" stroke-width="1.5"/>
<line x1="681.10" y1="457.50" x2="681.10" y2="468.70" stroke="#111" stroke-width="1.5"/>
<line x1="693.50" y1="457.50" x2="693.50" y2="468.70" stroke="#111" stroke-width="1.5"/>
<line x1="705.90" y1="457.50" x2="705.90" y2="468.70" stroke="#111" stroke-width="1.5"/>
<rect x="657.15" y="457.35" width="60.30" height="11.50" rx="1" fill="none" stroke="#111" stroke-width="1.7"/>
<rect x="523.10" y="473.70" width="12.60" height="13.20" fill="#a8a8a8"/>
<rect x="535.70" y="473.70" width="12.60" height="13.20" fill="#a8a8a8"/>
<rect x="548.30" y="473.70" width="12.60" height="13.20" fill="#a8a8a8"/>
<rect x="560.90" y="473.70" width="12.60" height="13.20" fill="#a8a8a8"/>
<rect x="573.50" y="473.70" width="12.60" height="13.20" fill="#a8a8a8"/>
<line x1="535.70" y1="474.70" x2="535.70" y2="485.90" stroke="#111" stroke-width="1.5"/>
<line x1="548.30" y1="474.70" x2="548.30" y2="485.90" stroke="#111" stroke-width="1.5"/>
<line x1="560.90" y1="474.70" x2="560.90" y2="485.90" stroke="#111" stroke-width="1.5"/>
<line x1="573.50" y1="474.70" x2="573.50" y2="485.90" stroke="#111" stroke-width="1.5"/>
<rect x="523.95" y="474.55" width="61.30" height="11.50" rx="1" fill="none" stroke="#111" stroke-width="1.7"/>
<rect x="590.00" y="473.70" width="12.50" height="13.20" fill="#a8a8a8"/>
<rect x="602.50" y="473.70" width="12.50" height="13.20" fill="#a8a8a8"/>
<rect x="615.00" y="473.70" width="12.50" height="13.20" fill="#a8a8a8"/>
<rect x="627.50" y="473.70" width="12.50" height="13.20" fill="#a8a8a8"/>
<rect x="640.00" y="473.70" width="12.50" height="13.20" fill="#a8a8a8"/>
<line x1="602.50" y1="474.70" x2="602.50" y2="485.90" stroke="#111" stroke-width="1.5"/>
<line x1="615.00" y1="474.70" x2="615.00" y2="485.90" stroke="#111" stroke-width="1.5"/>
<line x1="627.50" y1="474.70" x2="627.50" y2="485.90" stroke="#111" stroke-width="1.5"/>
<line x1="640.00" y1="474.70" x2="640.00" y2="485.90" stroke="#111" stroke-width="1.5"/>
<rect x="590.85" y="474.55" width="60.80" height="11.50" rx="1" fill="none" stroke="#111" stroke-width="1.7"/>
<rect x="656.30" y="473.70" width="12.40" height="13.20" fill="#fff"/>
<rect x="668.70" y="473.70" width="12.40" height="13.20" fill="#fff"/>
<rect x="681.10" y="473.70" width="12.40" height="13.20" fill="#a8a8a8"/>
<rect x="693.50" y="473.70" width="12.40" height="13.20" fill="#a8a8a8"/>
<rect x="705.90" y="473.70" width="12.40" height="13.20" fill="#a8a8a8"/>
<line x1="668.70" y1="474.70" x2="668.70" y2="485.90" stroke="#111" stroke-width="1.5"/>
<line x1="681.10" y1="474.70" x2="681.10" y2="485.90" stroke="#111" stroke-width="1.5"/>
<line x1="693.50" y1="474.70" x2="693.50" y2="485.90" stroke="#111" stroke-width="1.5"/>
<line x1="705.90" y1="474.70" x2="705.90" y2="485.90" stroke="#111" stroke-width="1.5"/>
<rect x="657.15" y="474.55" width="60.30" height="11.50" rx="1" fill="none" stroke="#111" stroke-width="1.7"/>
<rect x="535.70" y="490.40" width="12.60" height="13.20" fill="#a8a8a8"/>
<rect x="536.55" y="491.25" width="10.90" height="11.50" rx="1" fill="none" stroke="#111" stroke-width="1.7"/>
<rect x="560.90" y="490.40" width="12.60" height="13.20" fill="#a8a8a8"/>
<rect x="573.50" y="490.40" width="12.60" height="13.20" fill="#a8a8a8"/>
<line x1="573.50" y1="491.40" x2="573.50" y2="502.60" stroke="#111" stroke-width="1.5"/>
<rect x="561.75" y="491.25" width="23.50" height="11.50" rx="1" fill="none" stroke="#111" stroke-width="1.7"/>
<rect x="590.00" y="490.40" width="12.50" height="13.20" fill="#fff"/>
<rect x="602.50" y="490.40" width="12.50" height="13.20" fill="#fff"/>
<rect x="615.00" y="490.40" width="12.50" height="13.20" fill="#fff"/>
<rect x="627.50" y="490.40" width="12.50" height="13.20" fill="#fff"/>
<rect x="640.00" y="490.40" width="12.50" height="13.20" fill="#fff"/>
<line x1="602.50" y1="491.40" x2="602.50" y2="502.60" stroke="#111" stroke-width="1.5"/>
<line x1="615.00" y1="491.40" x2="615.00" y2="502.60" stroke="#111" stroke-width="1.5"/>
<line x1="627.50" y1="491.40" x2="627.50" y2="502.60" stroke="#111" stroke-width="1.5"/>
<line x1="640.00" y1="491.40" x2="640.00" y2="502.60" stroke="#111" stroke-width="1.5"/>
<rect x="590.85" y="491.25" width="60.80" height="11.50" rx="1" fill="none" stroke="#111" stroke-width="1.7"/>
<rect x="656.30" y="490.40" width="12.40" height="13.20" fill="#fff"/>
<rect x="668.70" y="490.40" width="12.40" height="13.20" fill="#a8a8a8"/>
<rect x="681.10" y="490.40" width="12.40" height="13.20" fill="#fff"/>
<rect x="693.50" y="490.40" width="12.40" height="13.20" fill="#a8a8a8"/>
<rect x="705.90" y="490.40" width="12.40" height="13.20" fill="#a8a8a8"/>
<line x1="668.70" y1="491.40" x2="668.70" y2="502.60" stroke="#111" stroke-width="1.5"/>
<line x1="681.10" y1="491.40" x2="681.10" y2="502.60" stroke="#111" stroke-width="1.5"/>
<line x1="693.50" y1="491.40" x2="693.50" y2="502.60" stroke="#111" stroke-width="1.5"/>
<line x1="705.90" y1="491.40" x2="705.90" y2="502.60" stroke="#111" stroke-width="1.5"/>
<rect x="657.15" y="491.25" width="60.30" height="11.50" rx="1" fill="none" stroke="#111" stroke-width="1.7"/>
<rect x="523.10" y="507.70" width="12.60" height="13.20" fill="#a8a8a8"/>
<rect x="535.70" y="507.70" width="12.60" height="13.20" fill="#a8a8a8"/>
<rect x="548.30" y="507.70" width="12.60" height="13.20" fill="#a8a8a8"/>
<rect x="560.90" y="507.70" width="12.60" height="13.20" fill="#a8a8a8"/>
<rect x="573.50" y="507.70" width="12.60" height="13.20" fill="#a8a8a8"/>
<line x1="535.70" y1="508.70" x2="535.70" y2="519.90" stroke="#111" stroke-width="1.5"/>
<line x1="548.30" y1="508.70" x2="548.30" y2="519.90" stroke="#111" stroke-width="1.5"/>
<line x1="560.90" y1="508.70" x2="560.90" y2="519.90" stroke="#111" stroke-width="1.5"/>
<line x1="573.50" y1="508.70" x2="573.50" y2="519.90" stroke="#111" stroke-width="1.5"/>
<rect x="523.95" y="508.55" width="61.30" height="11.50" rx="1" fill="none" stroke="#111" stroke-width="1.7"/>
<rect x="590.00" y="507.70" width="12.50" height="13.20" fill="#a8a8a8"/>
<rect x="602.50" y="507.70" width="12.50" height="13.20" fill="#fff"/>
<rect x="615.00" y="507.70" width="12.50" height="13.20" fill="#fff"/>
<rect x="627.50" y="507.70" width="12.50" height="13.20" fill="#a8a8a8"/>
<rect x="640.00" y="507.70" width="12.50" height="13.20" fill="#fff"/>
<line x1="602.50" y1="508.70" x2="602.50" y2="519.90" stroke="#111" stroke-width="1.5"/>
<line x1="615.00" y1="508.70" x2="615.00" y2="519.90" stroke="#111" stroke-width="1.5"/>
<line x1="627.50" y1="508.70" x2="627.50" y2="519.90" stroke="#111" stroke-width="1.5"/>
<line x1="640.00" y1="508.70" x2="640.00" y2="519.90" stroke="#111" stroke-width="1.5"/>
<rect x="590.85" y="508.55" width="60.80" height="11.50" rx="1" fill="none" stroke="#111" stroke-width="1.7"/>
<rect x="656.30" y="507.70" width="12.40" height="13.20" fill="#fff"/>
<rect x="668.70" y="507.70" width="12.40" height="13.20" fill="#a8a8a8"/>
<rect x="681.10" y="507.70" width="12.40" height="13.20" fill="#a8a8a8"/>
<rect x="693.50" y="507.70" width="12.40" height="13.20" fill="#a8a8a8"/>
<rect x="705.90" y="507.70" width="12.40" height="13.20" fill="#a8a8a8"/>
<line x1="668.70" y1="508.70" x2="668.70" y2="519.90" stroke="#111" stroke-width="1.5"/>
<line x1="681.10" y1="508.70" x2="681.10" y2="519.90" stroke="#111" stroke-width="1.5"/>
<line x1="693.50" y1="508.70" x2="693.50" y2="519.90" stroke="#111" stroke-width="1.5"/>
<line x1="705.90" y1="508.70" x2="705.90" y2="519.90" stroke="#111" stroke-width="1.5"/>
<rect x="657.15" y="508.55" width="60.30" height="11.50" rx="1" fill="none" stroke="#111" stroke-width="1.7"/>
<rect x="590.00" y="524.50" width="12.50" height="13.20" fill="#fff"/>
<rect x="602.50" y="524.50" width="12.50" height="13.20" fill="#fff"/>
<rect x="615.00" y="524.50" width="12.50" height="13.20" fill="#fff"/>
<rect x="627.50" y="524.50" width="12.50" height="13.20" fill="#fff"/>
<rect x="640.00" y="524.50" width="12.50" height="13.20" fill="#fff"/>
<line x1="602.50" y1="525.50" x2="602.50" y2="536.70" stroke="#111" stroke-width="1.5"/>
<line x1="615.00" y1="525.50" x2="615.00" y2="536.70" stroke="#111" stroke-width="1.5"/>
<line x1="627.50" y1="525.50" x2="627.50" y2="536.70" stroke="#111" stroke-width="1.5"/>
<line x1="640.00" y1="525.50" x2="640.00" y2="536.70" stroke="#111" stroke-width="1.5"/>
<rect x="590.85" y="525.35" width="60.80" height="11.50" rx="1" fill="none" stroke="#111" stroke-width="1.7"/>
<rect x="656.30" y="524.50" width="12.40" height="13.20" fill="#a8a8a8"/>
<rect x="668.70" y="524.50" width="12.40" height="13.20" fill="#a8a8a8"/>
<rect x="681.10" y="524.50" width="12.40" height="13.20" fill="#a8a8a8"/>
<rect x="693.50" y="524.50" width="12.40" height="13.20" fill="#a8a8a8"/>
<rect x="705.90" y="524.50" width="12.40" height="13.20" fill="#a8a8a8"/>
<line x1="668.70" y1="525.50" x2="668.70" y2="536.70" stroke="#111" stroke-width="1.5"/>
<line x1="681.10" y1="525.50" x2="681.10" y2="536.70" stroke="#111" stroke-width="1.5"/>
<line x1="693.50" y1="525.50" x2="693.50" y2="536.70" stroke="#111" stroke-width="1.5"/>
<line x1="705.90" y1="525.50" x2="705.90" y2="536.70" stroke="#111" stroke-width="1.5"/>
<rect x="657.15" y="525.35" width="60.30" height="11.50" rx="1" fill="none" stroke="#111" stroke-width="1.7"/>
</g>
</svg>
</body></html>
